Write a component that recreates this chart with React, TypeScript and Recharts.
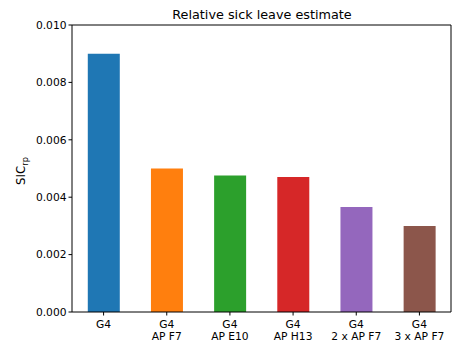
import { BarChart, Bar, XAxis, YAxis, Cell, Customized } from 'recharts'

const groups = ['G4', 'G4', 'G4', 'G4', 'G4', 'G4']
const variants = ['', 'AP F7', 'AP E10', 'AP H13', '2 x AP F7', '3 x AP F7']
const sicValues = [0.009, 0.005, 0.00476, 0.0047, 0.00366, 0.003]
const barColors = ['#1f77b4', '#ff7f0e', '#2ca02c', '#d62728', '#9467bd', '#8c564b']
const yTicks = [0, 0.002, 0.004, 0.006, 0.008, 0.01]

const data = groups.map((g, i) => ({
  key: `${g}|${variants[i]}`,
  group: g,
  variant: variants[i],
  sic: sicValues[i],
}))

const FONT = 'DejaVu Sans, sans-serif'

const TwoLineTick = ({ x, y, payload }: any) => {
  const [g, v] = String(payload.value).split('|')
  return (
    <text x={x} y={y} textAnchor="middle" fontFamily={FONT} fontSize={10.7} fill="#000">
      <tspan x={x} dy={10}>{g}</tspan>
      {v && <tspan x={x} dy={12.5}>{v}</tspan>}
    </text>
  )
}

const Title = () => (
  <text x={262} y={19} textAnchor="middle" fontFamily={FONT} fontSize={12.8} fill="#000">
    Relative sick leave estimate
  </text>
)

const YLabel = () => (
  <text transform="translate(25,171) rotate(-90)" textAnchor="middle" fontFamily={FONT} fontSize={11.8} fill="#000">
    SIC<tspan fontSize={8.2} dy={3}>rp</tspan>
  </text>
)

export default function App() {
  return (
    <div style={{ position: 'absolute', left: 0, top: 0, background: '#fff' }}>
      <BarChart
        width={455}
        height={342}
        data={data}
        margin={{ top: 24, right: 3, left: 0, bottom: 0 }}
        barCategoryGap="25%"
      >
        <XAxis
          dataKey="key"
          height={30}
          interval={0}
          tick={<TwoLineTick />}
          tickLine={{ stroke: '#000' }}
          tickSize={3.5}
          axisLine={{ stroke: '#000' }}
        />
        {/* top and right spines */}
        <XAxis xAxisId="top" dataKey="key" orientation="top" height={1} tick={false} tickLine={false} axisLine={{ stroke: '#000' }} />
        <YAxis
          width={72}
          domain={[0, 0.01]}
          ticks={yTicks}
          tickFormatter={(v: number) => v.toFixed(3)}
          tick={{ fill: '#000', fontSize: 10.7, fontFamily: FONT }}
          tickLine={{ stroke: '#000' }}
          tickSize={3.5}
          axisLine={{ stroke: '#000' }}
          allowDataOverflow
        />
        <YAxis yAxisId="right" orientation="right" width={1} domain={[0, 0.01]} tick={false} tickLine={false} axisLine={{ stroke: '#000' }} />
        <Bar dataKey="sic" isAnimationActive={false}>
          {data.map((d, i) => <Cell key={d.key} fill={barColors[i]} />)}
        </Bar>
        <Customized component={<Title />} />
        <Customized component={<YLabel />} />
      </BarChart>
    </div>
  )
}
